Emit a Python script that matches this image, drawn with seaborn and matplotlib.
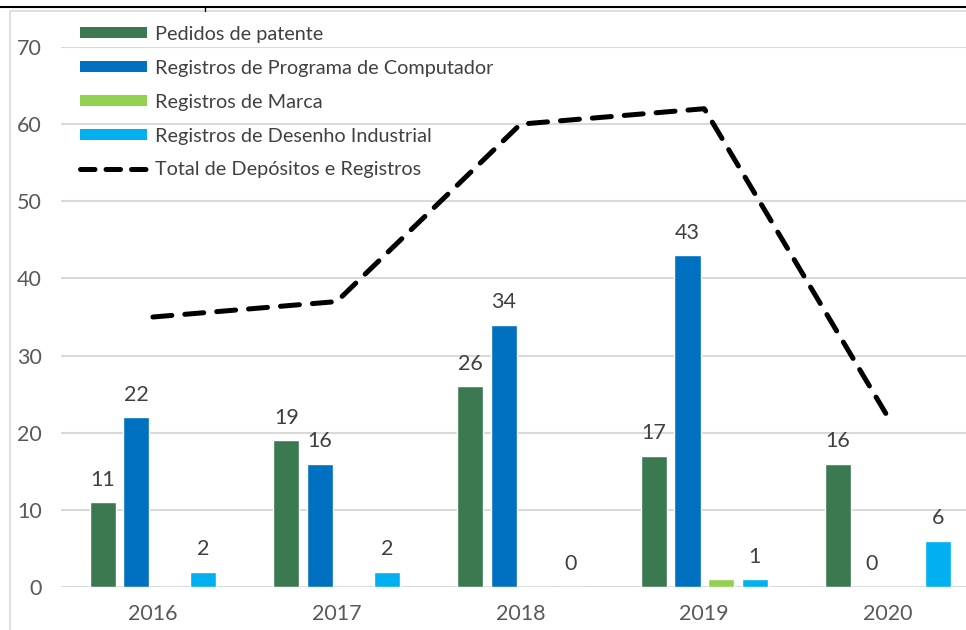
import pandas as pd
import matplotlib
matplotlib.use("Agg")
import matplotlib.pyplot as plt
from matplotlib.lines import Line2D
from matplotlib.patches import Patch, Rectangle
import seaborn as sns

# Data
years = ["2016", "2017", "2018", "2019", "2020"]
patentes = [11, 19, 26, 17, 16]
programas = [22, 16, 34, 43, 0]
marcas = [0, 0, 0, 1, 0]
desenhos = [2, 2, 0, 1, 6]
total = [35, 37, 60, 62, 22]

series = ["Pedidos de patente", "Registros de Programa de Computador",
          "Registros de Marca", "Registros de Desenho Industrial"]
colors = ["#3B7A50", "#0070C0", "#92D050", "#00B0F0"]
line_label = "Total de Depósitos e Registros"

df = pd.DataFrame({
    "ano": years * 4,
    "serie": sum([[s] * len(years) for s in series], []),
    "valor": patentes + programas + marcas + desenhos,
})

sns.set_style("white")
plt.rcParams["font.family"] = ["Lato", "DejaVu Sans"]

W, H = 966, 630
fig = plt.figure(figsize=(W / 100, H / 100), dpi=100)
ax = fig.add_axes([61 / W, 43 / H, (980 - 61) / W, (587 - 47) / H])

sns.barplot(data=df, x="ano", y="valor", hue="serie", hue_order=series,
            palette=colors, width=0.73, gap=0.22, legend=False, ax=ax,
            saturation=1)

# total line
n_before = len(ax.lines)
sns.pointplot(x=years, y=total, color="black", markers="", ax=ax)
for tl in ax.lines[n_before:]:
    tl.set_linewidth(3.6)
    tl.set_linestyle((0, (3.8, 2.6)))
    tl.set_dash_capstyle("round")
    tl.set_zorder(5)

# data labels (Marca has none in the original)
for i, cont in enumerate(ax.containers):
    if i == 2:
        continue
    ax.bar_label(cont, padding=9, fontsize=15.5, color="#404040")

ax.set_ylim(0, 70)
ax.set_xlim(-0.5, len(years) - 0.5)
ax.set_yticks(range(0, 71, 10))
ax.set_xlabel("")
ax.set_ylabel("")
ax.tick_params(axis="both", labelsize=15.5, labelcolor="#595959", length=0)
ax.tick_params(axis="x", pad=12)
ax.tick_params(axis="y", pad=14)
ax.yaxis.grid(True, color="#D9D9D9", lw=1.5)
ax.set_axisbelow(True)
for s in ax.spines.values():
    s.set_visible(False)

handles = [Patch(facecolor=c, edgecolor="none") for c in colors]
handles.append(Line2D([], [], color="black", lw=3.6, dashes=(2.9, 2.2),
                      dash_capstyle="round"))
fig.legend(handles, series + [line_label], loc="upper left",
           bbox_to_anchor=(62 / W, 1 - 8 / H), frameon=False,
           fontsize=14.3, labelcolor="#404040", handlelength=3.4,
           handleheight=0.5, handletextpad=0.4, labelspacing=0.85)

# frame remnants of the cropped original
fig.add_artist(Rectangle((10 / W, -0.1), 1.2, 1 - 11 / H + 0.1,
                         transform=fig.transFigure, fill=False,
                         edgecolor="#D9D9D9", lw=1.2))
fig.add_artist(Line2D([0, 1], [1 - 7 / H] * 2, color="black", lw=1.5,
                      transform=fig.transFigure))
fig.add_artist(Line2D([205 / W] * 2, [1 - 7 / H, 1 - 11 / H], color="black",
                      lw=1, transform=fig.transFigure))

fig.savefig("out.png", dpi=100)
